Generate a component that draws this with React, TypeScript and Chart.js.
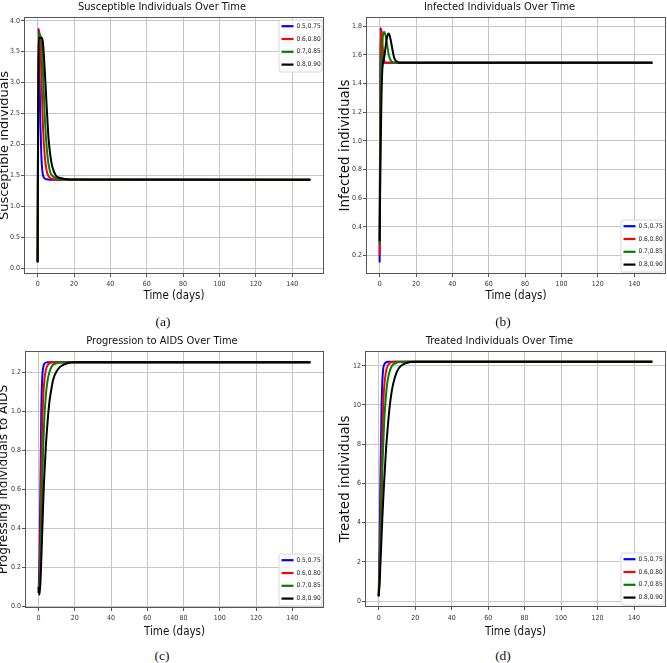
import React, { useEffect, useRef } from 'react';
import Chart from 'chart.js/auto';

// sample times (days) shared by every series
const times = [0, 0.5, 1, 1.5, 2, 2.5, 3, 4, 5, 6, 7, 8, 10, 12, 15, 20, 150];

const seriesLabels = ['0.5,0.75', '0.6,0.80', '0.7,0.85', '0.8,0.90'];

// (a) susceptible
const susceptible1 = [0.1, 3.88, 3.15, 2.35, 1.85, 1.6, 1.5, 1.45, 1.44, 1.435, 1.43, 1.43, 1.43, 1.43, 1.43, 1.43, 1.43];
const susceptible2 = [0.1, 3.85, 3.8, 3.6, 3.2, 2.7, 2.25, 1.78, 1.57, 1.49, 1.46, 1.445, 1.435, 1.43, 1.43, 1.43, 1.43];
const susceptible3 = [0.1, 3.8, 3.78, 3.76, 3.72, 3.5, 3.1, 2.4, 1.95, 1.68, 1.55, 1.5, 1.46, 1.445, 1.435, 1.43, 1.43];
const susceptible4 = [0.1, 3.72, 3.72, 3.72, 3.72, 3.72, 3.62, 3.15, 2.6, 2.1, 1.82, 1.65, 1.5, 1.465, 1.445, 1.435, 1.43];

// (b) infected
const infected1 = [0.15, 1.79, 1.62, 1.555, 1.545, 1.545, 1.545, 1.545, 1.545, 1.545, 1.545, 1.545, 1.545, 1.545, 1.545, 1.545, 1.545];
const infected2 = [0.2, 1.6, 1.78, 1.7, 1.6, 1.56, 1.55, 1.545, 1.545, 1.545, 1.545, 1.545, 1.545, 1.545, 1.545, 1.545, 1.545];
const infected3 = [0.28, 1.3, 1.6, 1.7, 1.75, 1.76, 1.75, 1.68, 1.6, 1.565, 1.55, 1.547, 1.545, 1.545, 1.545, 1.545, 1.545];
const infected4 = [0.3, 0.9, 1.3, 1.5, 1.55, 1.58, 1.63, 1.72, 1.75, 1.71, 1.64, 1.58, 1.55, 1.545, 1.545, 1.545, 1.545];

// (c) progression to AIDS
const progressing1 = [0.07, 0.25, 0.6, 1.0, 1.17, 1.22, 1.24, 1.248, 1.25, 1.25, 1.25, 1.25, 1.25, 1.25, 1.25, 1.25, 1.25];
const progressing2 = [0.07, 0.14, 0.36, 0.68, 0.92, 1.06, 1.14, 1.21, 1.235, 1.245, 1.249, 1.25, 1.25, 1.25, 1.25, 1.25, 1.25];
const progressing3 = [0.07, 0.1, 0.22, 0.42, 0.62, 0.8, 0.93, 1.08, 1.16, 1.2, 1.225, 1.237, 1.246, 1.249, 1.25, 1.25, 1.25];
const progressing4 = [0.1, 0.06, 0.12, 0.24, 0.38, 0.52, 0.64, 0.82, 0.95, 1.05, 1.11, 1.16, 1.205, 1.228, 1.243, 1.25, 1.25];

// (d) treated
const treated1 = [0.25, 3.0, 6.5, 9.5, 11.2, 11.85, 12.05, 12.17, 12.2, 12.2, 12.2, 12.2, 12.2, 12.2, 12.2, 12.2, 12.2];
const treated2 = [0.25, 1.8, 4.0, 6.5, 8.6, 10.0, 10.9, 11.7, 12.0, 12.13, 12.18, 12.2, 12.2, 12.2, 12.2, 12.2, 12.2];
const treated3 = [0.25, 1.3, 3.0, 4.8, 6.6, 8.0, 9.1, 10.5, 11.3, 11.7, 11.95, 12.07, 12.16, 12.19, 12.2, 12.2, 12.2];
const treated4 = [0.25, 0.9, 2.0, 3.1, 4.2, 5.2, 6.1, 7.7, 8.9, 9.9, 10.6, 11.1, 11.7, 11.98, 12.13, 12.2, 12.2];

const xTicks = [0, 20, 40, 60, 80, 100, 120, 140];
const susceptibleTicks = [0, 0.5, 1, 1.5, 2, 2.5, 3, 3.5, 4];
const infectedTicks = [0.2, 0.4, 0.6, 0.8, 1.0, 1.2, 1.4, 1.6, 1.8];
const progressingTicks = [0, 0.2, 0.4, 0.6, 0.8, 1.0, 1.2];
const treatedTicks = [0, 2, 4, 6, 8, 10, 12];

const colors = ['#0000ff', '#ff0000', '#008000', '#000000'];
const NARROW = '"DejaVu Sans Condensed", "Liberation Sans Narrow", "DejaVu Sans", sans-serif';
const WIDE = '"DejaVu Sans", sans-serif';
const GRID = '#c6c6c6';
const SPINE = '#555555';

interface PanelSpec {
  left: number;
  top: number;
  width: number;
  title: string;
  yLabel: string;
  series: number[][];
  yTicks: number[];
  yMin: number;
  yMax: number;
  decimals: number;
  corner: 'upper' | 'lower';
  areaTop: number;
  areaBottom: number;
  yAxisW: number;
  padRight: number;
  yLabelCenter: number;
  yLabelSize: number;
  titleCenter: number;
  xTickPad: number;
  xTitleCenter: number;
  caption: string;
  captionX: number;
  captionY: number;
}

const H = 316;

const panels: PanelSpec[] = [
  {
    left: 0, top: 0, width: 333, title: 'Susceptible Individuals Over Time', yLabel: 'Susceptible individuals',
    series: [susceptible1, susceptible2, susceptible3, susceptible4], yTicks: susceptibleTicks,
    yMin: -0.09, yMax: 4.06, decimals: 1, corner: 'upper', areaTop: 17, areaBottom: 274,
    yAxisW: 24, padRight: 9, yLabelCenter: 4.5, yLabelSize: 13, titleCenter: 7.5,
    xTickPad: 2.6, xTitleCenter: 296, caption: '(a)', captionX: 163, captionY: 322,
  },
  {
    left: 333, top: 0, width: 334, title: 'Infected Individuals Over Time', yLabel: 'Infected individuals',
    series: [infected1, infected2, infected3, infected4], yTicks: infectedTicks,
    yMin: 0.07, yMax: 1.865, decimals: 1, corner: 'lower', areaTop: 17, areaBottom: 274,
    yAxisW: 33, padRight: 1, yLabelCenter: 12.5, yLabelSize: 13.5, titleCenter: 7.5,
    xTickPad: 2.6, xTitleCenter: 296, caption: '(b)', captionX: 170, captionY: 322,
  },
  {
    left: 0, top: 330, width: 333, title: 'Progression to AIDS Over Time', yLabel: 'Progressing individuals to AIDS',
    series: [progressing1, progressing2, progressing3, progressing4], yTicks: progressingTicks,
    yMin: -0.008, yMax: 1.308, decimals: 1, corner: 'lower', areaTop: 21, areaBottom: 278,
    yAxisW: 25, padRight: 9, yLabelCenter: 3.8, yLabelSize: 12.2, titleCenter: 11.5,
    xTickPad: 3.2, xTitleCenter: 302, caption: '(c)', captionX: 162, captionY: 326,
  },
  {
    left: 333, top: 330, width: 334, title: 'Treated Individuals Over Time', yLabel: 'Treated individuals',
    series: [treated1, treated2, treated3, treated4], yTicks: treatedTicks,
    yMin: -0.3, yMax: 12.75, decimals: 0, corner: 'lower', areaTop: 21, areaBottom: 277,
    yAxisW: 32, padRight: 1, yLabelCenter: 12.5, yLabelSize: 13.5, titleCenter: 11.5,
    xTickPad: 4.2, xTitleCenter: 302, caption: '(d)', captionX: 170, captionY: 326,
  },
];

// matplotlib-like spines and legend box
const frameLegend = {
  id: 'frameLegend',
  afterDraw(chart: any, _args: any, opts: any) {
    const { ctx, chartArea: a } = chart;
    ctx.save();
    ctx.strokeStyle = SPINE;
    ctx.lineWidth = 1;
    ctx.strokeRect(a.left + 0.5, a.top + 0.5, a.right - a.left - 1, a.bottom - a.top - 1);

    const w = 43;
    const h = 52;
    const x = a.right - w - 2.5;
    const y = opts.corner === 'upper' ? a.top + 2.5 : a.bottom - h - 2.5;
    ctx.beginPath();
    ctx.roundRect(x + 0.5, y + 0.5, w, h, 2);
    ctx.fillStyle = 'rgba(255,255,255,0.85)';
    ctx.fill();
    ctx.strokeStyle = '#d8d8d8';
    ctx.stroke();

    ctx.font = `6.5px ${NARROW}`;
    ctx.textBaseline = 'middle';
    ctx.textAlign = 'left';
    chart.data.datasets.forEach((ds: any, i: number) => {
      const ry = y + 6.7 + i * 12.8;
      ctx.strokeStyle = ds.borderColor;
      ctx.lineWidth = 2.2;
      ctx.beginPath();
      ctx.moveTo(x + 3, ry);
      ctx.lineTo(x + 15, ry);
      ctx.stroke();
      ctx.fillStyle = '#222';
      ctx.fillText(ds.label, x + 18, ry);
    });
    ctx.restore();
  },
};

function Panel({ p }: { p: PanelSpec }) {
  const canvasRef = useRef<HTMLCanvasElement>(null);

  useEffect(() => {
    if (!canvasRef.current) return;
    const titleLine = 11 * 1.2;
    const titlePadTop = p.titleCenter - titleLine / 2;
    const xAxisH = H - p.areaBottom;
    const xTitleSize = 11.5;

    const chart = new Chart(canvasRef.current, {
      type: 'line',
      data: {
        datasets: p.series.map((vals, i) => ({
          label: seriesLabels[i],
          data: vals.map((v, k) => ({ x: times[k], y: v })),
          borderColor: colors[i],
          backgroundColor: colors[i],
          borderWidth: 2,
          pointRadius: 0,
          fill: false,
          order: p.series.length - i, // later series drawn on top, like matplotlib
          cubicInterpolationMode: 'monotone' as const,
        })),
      },
      options: {
        responsive: false,
        animation: false,
        layout: { padding: { left: 0, right: p.padRight, top: 0, bottom: 0 } },
        scales: {
          x: {
            type: 'linear',
            min: -7.5,
            max: 157.5,
            afterBuildTicks: (s: any) => {
              s.ticks = xTicks.map(v => ({ value: v }));
            },
            afterFit: (s: any) => {
              s.height = xAxisH;
            },
            ticks: {
              font: { family: NARROW, size: 7 },
              color: '#333',
              padding: p.xTickPad,
              maxRotation: 0,
            },
            grid: { color: GRID, tickColor: SPINE, tickLength: 3 },
            border: { display: false },
            title: {
              display: true,
              text: 'Time (days)',
              font: { family: NARROW, size: xTitleSize },
              color: '#111',
              padding: { top: 0, bottom: H - p.xTitleCenter - (xTitleSize * 1.2) / 2 },
            },
          },
          y: {
            type: 'linear',
            min: p.yMin,
            max: p.yMax,
            afterBuildTicks: (s: any) => {
              s.ticks = p.yTicks.map(v => ({ value: v }));
            },
            afterFit: (s: any) => {
              s.width = p.yAxisW;
            },
            ticks: {
              font: { family: NARROW, size: 7 },
              color: '#333',
              padding: 1,
              callback: (v: any) => Number(v).toFixed(p.decimals),
            },
            grid: { color: GRID, tickColor: SPINE, tickLength: 3 },
            border: { display: false },
            title: {
              display: true,
              text: p.yLabel,
              font: { family: WIDE, size: p.yLabelSize, lineHeight: 1 },
              color: '#111',
              padding: { top: p.yLabelCenter - p.yLabelSize / 2, bottom: 0 },
            },
          },
        },
        plugins: {
          legend: { display: false },
          tooltip: { enabled: false },
          title: {
            display: true,
            text: p.title,
            font: { family: NARROW, size: 11, weight: 'normal', lineHeight: 1.2 },
            color: '#111',
            padding: { top: titlePadTop, bottom: p.areaTop - titleLine - titlePadTop },
          },
          frameLegend: { corner: p.corner },
        } as any,
      },
      plugins: [frameLegend],
    });

    return () => {
      chart.destroy();
    };
  }, [p]);

  return (
    <canvas
      ref={canvasRef}
      width={p.width}
      height={H}
      style={{ position: 'absolute', left: p.left, top: p.top, width: p.width, height: H }}
    />
  );
}

export default function App() {
  return (
    <div style={{ position: 'absolute', left: 0, top: 0, width: 667, height: 663, background: '#fff', overflow: 'hidden' }}>
      {panels.map(p => (
        <Panel key={p.caption} p={p} />
      ))}
      {panels.map(p => (
        <div
          key={'c' + p.caption}
          style={{
            position: 'absolute',
            left: p.left + p.captionX,
            top: p.top + p.captionY,
            transform: 'translate(-50%, -50%)',
            font: '13.5px "Liberation Serif", "DejaVu Serif", serif',
            color: '#111',
          }}
        >
          {p.caption}
        </div>
      ))}
    </div>
  );
}
